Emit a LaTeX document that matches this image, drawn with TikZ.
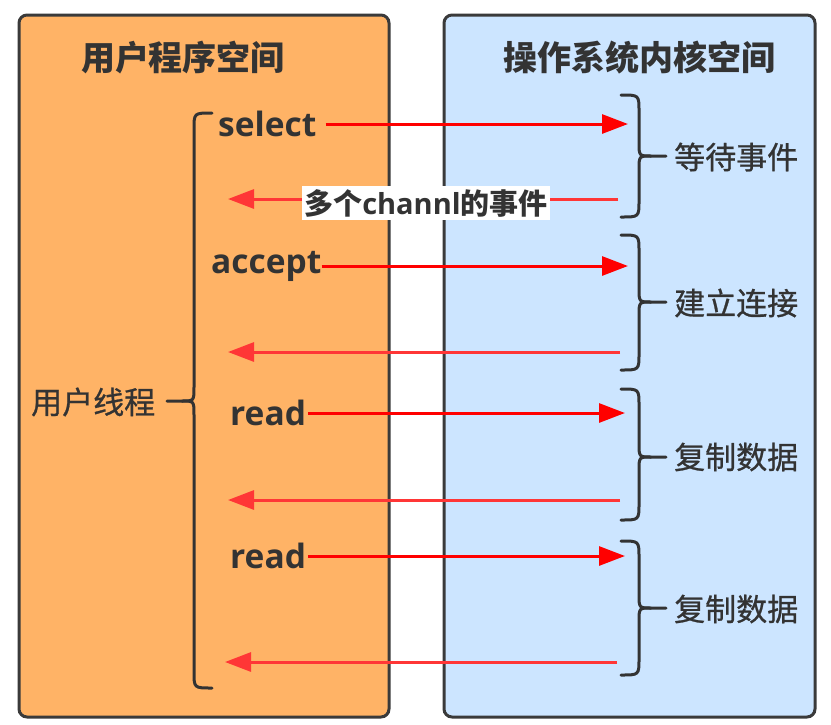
\documentclass[tikz,border=0pt]{standalone}
\usepackage{fontspec}
\setmainfont{Open Sans}
\newfontfamily\cjk{Noto Sans CJK SC}
\newfontfamily\cjkmed[FakeBold=0.8]{Noto Sans CJK SC}
\usetikzlibrary{arrows.meta}
\definecolor{boxorange}{HTML}{FFB366}
\definecolor{boxblue}{HTML}{CCE5FF}
\definecolor{edgegray}{HTML}{3A3A3A}
\definecolor{ink}{HTML}{333333}
\definecolor{fwd}{HTML}{FF0000}
\definecolor{bwd}{HTML}{FF3636}
\tikzset{
  panel/.style={draw=edgegray, line width=3pt, rounded corners=8pt},
  bracestyle/.style={draw=ink, line width=3pt, line cap=round},
  titletext/.style={font=\cjk\bfseries\fontsize{34}{40}\selectfont, text=ink},
  cjklab/.style={font=\cjkmed\fontsize{31}{36}\selectfont, text=ink, inner sep=0pt, anchor=west},
  calltext/.style={font=\bfseries\fontsize{33.5}{40}\selectfont, text=ink, inner sep=0pt, anchor=west},
  fwdarrow/.style={draw=fwd, line width=3pt, -{Triangle[length=26pt,width=19pt]}},
  bwdarrow/.style={draw=bwd, line width=3pt, -{Triangle[length=26pt,width=19pt]}},
  evtlab/.style={fill=white, inner xsep=2pt, inner ysep=3pt, font=\bfseries\fontsize{29}{34}\selectfont, text=ink}
}
\newcommand{\mybrace}[5]{%
  \draw[bracestyle] (#1,#2) .. controls ({#1+(#5)*18},#2) .. ({#1+(#5)*18},{#2+16}) -- ({#1+(#5)*18},{#3-14}) .. controls ({#1+(#5)*18},#3) .. ({#1+(#5)*30},#3) -- ({#1+(#5)*45},#3);
  \draw[bracestyle] (#1,#4) .. controls ({#1+(#5)*18},#4) .. ({#1+(#5)*18},{#4-16}) -- ({#1+(#5)*18},{#3+14}) .. controls ({#1+(#5)*18},#3) .. ({#1+(#5)*30},#3);
}
\begin{document}
\begin{tikzpicture}[x=1pt,y=-1pt]
\useasboundingbox (0,0) rectangle (831,724);
% panels
\draw[panel, fill=boxorange] (19,15) rectangle (389,717);
\draw[panel, fill=boxblue] (444,15) rectangle (815,717);
% titles
\node[titletext] (userspace) at (183,58) {用户程序空间};
\node[titletext] (kernelspace) at (639,58) {操作系统内核空间};
% left brace and label
\mybrace{212}{113}{401}{688}{-1}
\node[cjklab] (thread) at (31,402) {用户线程};
% right braces
\mybrace{621}{95}{156}{217}{1}
\mybrace{621}{235}{302}{370}{1}
\mybrace{621}{389}{457}{520}{1}
\mybrace{621}{541}{608}{675}{1}
\node[cjklab] (wait) at (674,157) {等待事件};
\node[cjklab] (conn) at (674,303) {建立连接};
\node[cjklab] (copy1) at (674,457) {复制数据};
\node[cjklab] (copy2) at (674,609) {复制数据};
% calls
\node[calltext] (select) at (218,124) {select\kern9pt};
\node[calltext] (accept) at (211,266) {accept};
\node[calltext] (read1) at (230,413) {read\kern2pt};
\node[calltext] (read2) at (230,556) {read\kern2pt};
% arrow end points
\coordinate (a1) at (628,124);
\coordinate (a2) at (628,266);
\coordinate (a3) at (625,413);
\coordinate (a4) at (625,556);
\coordinate (b1s) at (618,199);
\coordinate (b1e) at (228,199);
\coordinate (b2s) at (620,352);
\coordinate (b2e) at (228,352);
\coordinate (b3s) at (620,500);
\coordinate (b3e) at (228,500);
\coordinate (b4s) at (617,662);
\coordinate (b4e) at (225,662);
% forward arrows
\draw[fwdarrow] (select.east) -- (a1);
\draw[fwdarrow] (accept.east) -- (a2);
\draw[fwdarrow] (read1.east) -- (a3);
\draw[fwdarrow] (read2.east) -- (a4);
% return arrows
\draw[bwdarrow] (b1s) -- (b1e);
\draw[bwdarrow] (b2s) -- (b2e);
\draw[bwdarrow] (b3s) -- (b3e);
\draw[bwdarrow] (b4s) -- (b4e);
\node[evtlab] (events) at (426,203) {{\cjk 多个}channl{\cjk 的事件}};
\end{tikzpicture}
\end{document}
